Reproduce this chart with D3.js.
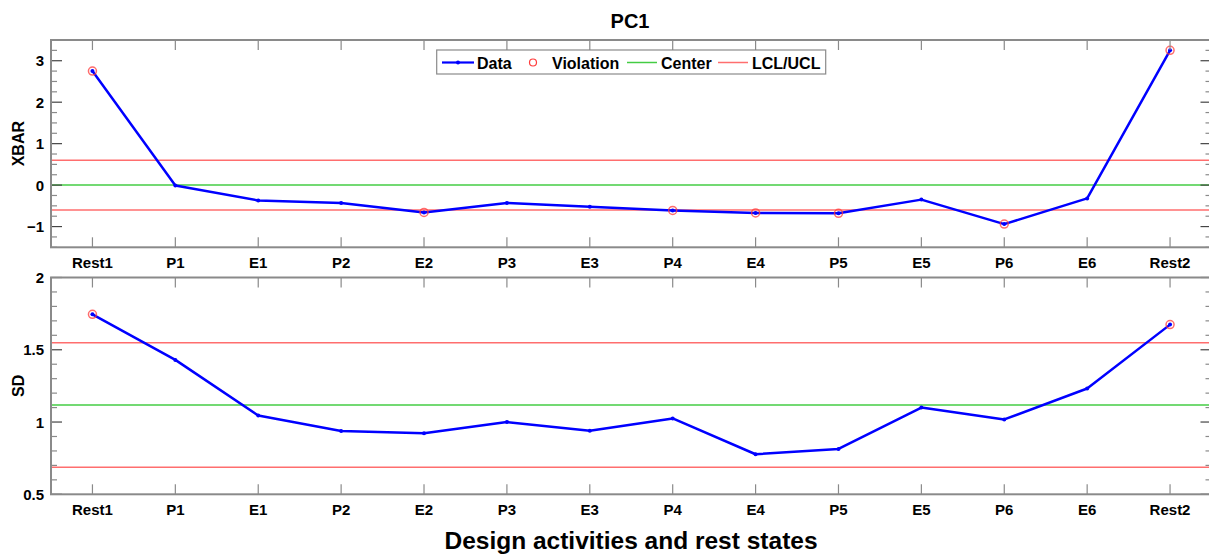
<!DOCTYPE html>
<html>
<head>
<meta charset="utf-8">
<script src="https://cdn.jsdelivr.net/npm/d3@7"></script>
<style>
  body { margin: 0; background: #fff; }
  svg text { font-family: "Liberation Sans", Arial, sans-serif; font-weight: bold; fill: #000; }
</style>
</head>
<body>
<svg id="chart" width="1209" height="556"></svg>
<script>
// categories along x
var states = ['Rest1', 'P1', 'E1', 'P2', 'E2', 'P3', 'E3', 'P4', 'E4', 'P5', 'E5', 'P6', 'E6', 'Rest2'];

// XBAR chart
var xbarValues = [2.75, -0.01, -0.37, -0.43, -0.66, -0.43, -0.52, -0.61, -0.67, -0.68, -0.35, -0.94, -0.32, 3.25];
var xbarLimits = { lcl: -0.6, center: 0, ucl: 0.6 };
var xbarTicks = [-1, 0, 1, 2, 3];

// SD chart
var sdValues = [1.745, 1.43, 1.045, 0.938, 0.922, 1.0, 0.94, 1.025, 0.777, 0.814, 1.1, 1.018, 1.232, 1.674];
var sdLimits = { lcl: 0.688, center: 1.118, ucl: 1.548 };
var sdTicks = [0.5, 1, 1.5, 2];

var legendItems = ['Data', 'Violation', 'Center', 'LCL/UCL'];

var svg = d3.select('#chart');
var left = 51, right = 1211.5;
var colors = { data: '#0000ff', viol: '#ff3b3b', center: '#44cc44', limit: '#ff6e6e', axis: '#8a8a8a' };

var x = d3.scaleLinear().domain([0.5, 14.5]).range([left, right]);

// title
svg.append('text')
    .attr('x', 630).attr('y', 28)
    .attr('text-anchor', 'middle')
    .style('font-size', '20px')
    .text('PC1');

svg.append('text')
    .attr('x', 631).attr('y', 549)
    .attr('text-anchor', 'middle')
    .style('font-size', '24.5px')
    .text('Design activities and rest states');

panel({
    top: 40, bottom: 247.3, domain: [-1.5, 3.5], minor: 0.25,
    ticks: xbarTicks, fmt: d3.format('d'),
    values: xbarValues, limits: xbarLimits, label: 'XBAR', legend: true
});

panel({
    top: 277.5, bottom: 494.3, domain: [0.5, 2], minor: 0.1,
    ticks: sdTicks, fmt: function (d) { return String(d); },
    values: sdValues, limits: sdLimits, label: 'SD', legend: false
});

function panel(o) {
    var y = d3.scaleLinear().domain(o.domain).range([o.bottom, o.top]);
    var g = svg.append('g');

    // limit lines
    [['ucl', colors.limit], ['center', colors.center], ['lcl', colors.limit]].forEach(function (l) {
        g.append('line')
            .attr('x1', left).attr('x2', right)
            .attr('y1', y(o.limits[l[0]])).attr('y2', y(o.limits[l[0]]))
            .attr('stroke', l[1])
            .attr('stroke-width', 1.5);
    });

    // data line
    var line = d3.line()
        .x(function (d, i) { return x(i + 1); })
        .y(function (d) { return y(d); });

    g.append('path')
        .datum(o.values)
        .attr('d', line)
        .attr('fill', 'none')
        .attr('stroke', colors.data)
        .attr('stroke-width', 2.5)
        .attr('stroke-linejoin', 'round');

    // violations
    g.selectAll('circle.viol')
        .data(o.values.map(function (v, i) { return [v, i]; })
            .filter(function (d) { return d[0] > o.limits.ucl || d[0] < o.limits.lcl; }))
        .enter().append('circle')
        .classed('viol', true)
        .attr('cx', function (d) { return x(d[1] + 1); })
        .attr('cy', function (d) { return y(d[0]); })
        .attr('r', 4)
        .attr('fill', 'none')
        .attr('stroke', colors.viol)
        .attr('stroke-opacity', 0.75)
        .attr('stroke-width', 1.5);

    g.selectAll('circle.pt')
        .data(o.values)
        .enter().append('circle')
        .classed('pt', true)
        .attr('cx', function (d, i) { return x(i + 1); })
        .attr('cy', function (d) { return y(d); })
        .attr('r', 2)
        .attr('fill', colors.data);

    // y ticks, inward on both sides
    var minors = d3.range(o.domain[0], o.domain[1] + 1e-9, o.minor);
    var ax = svg.append('g').attr('stroke', colors.axis).attr('stroke-width', 1.2);
    minors.forEach(function (v) {
        var major = o.ticks.some(function (t) { return Math.abs(t - v) < 1e-6; });
        var len = major ? 11 : 6;
        ax.append('line').attr('x1', left).attr('x2', left + len).attr('y1', y(v)).attr('y2', y(v))
            .attr('stroke', major ? '#444' : colors.axis);
        ax.append('line').attr('x1', right).attr('x2', right - len).attr('y1', y(v)).attr('y2', y(v))
            .attr('stroke', major ? '#444' : colors.axis);
    });

    // x ticks top and bottom
    states.forEach(function (s, i) {
        ax.append('line').attr('x1', x(i + 1)).attr('x2', x(i + 1))
            .attr('y1', o.top).attr('y2', o.top + 10);
        ax.append('line').attr('x1', x(i + 1)).attr('x2', x(i + 1))
            .attr('y1', o.bottom).attr('y2', o.bottom - 10);
    });

    // box
    svg.append('rect')
        .attr('x', left).attr('y', o.top)
        .attr('width', right - left).attr('height', o.bottom - o.top)
        .attr('fill', 'none')
        .attr('stroke', colors.axis)
        .attr('stroke-width', 2);

    // tick labels
    svg.append('g').selectAll('text')
        .data(o.ticks).enter().append('text')
        .attr('x', left - 7)
        .attr('y', function (d) { return y(d) + 5.5; })
        .attr('text-anchor', 'end')
        .style('font-size', '15px')
        .text(o.fmt);

    svg.append('g').selectAll('text')
        .data(states).enter().append('text')
        .attr('x', function (d, i) { return x(i + 1); })
        .attr('y', o.bottom + 21)
        .attr('text-anchor', 'middle')
        .style('font-size', '15px')
        .text(function (d) { return d; });

    svg.append('text')
        .attr('transform', 'translate(24,' + ((o.top + o.bottom) / 2) + ') rotate(-90)')
        .attr('text-anchor', 'middle')
        .style('font-size', '16px')
        .text(o.label);

    if (o.legend) drawLegend();
}

function drawLegend() {
    var lg = svg.append('g');
    lg.append('rect')
        .attr('x', 436.7).attr('y', 50)
        .attr('width', 389).attr('height', 24)
        .attr('fill', '#fff')
        .attr('stroke', colors.axis)
        .attr('stroke-width', 1.2);
    var cy = 62.5;
    var symX = [[442, 474], [533, 533], [627, 657], [718, 748]];
    var textX = [477, 552, 661, 752];
    legendItems.forEach(function (name, i) {
        if (i === 1) {
            lg.append('circle').attr('cx', symX[i][0]).attr('cy', cy).attr('r', 3.5)
                .attr('fill', 'none').attr('stroke', colors.viol).attr('stroke-width', 1.2);
        } else {
            var c = i === 0 ? colors.data : (i === 2 ? colors.center : colors.limit);
            lg.append('line').attr('x1', symX[i][0]).attr('x2', symX[i][1])
                .attr('y1', cy).attr('y2', cy)
                .attr('stroke', c).attr('stroke-width', i === 0 ? 2.2 : 1.5);
            if (i === 0) {
                lg.append('circle').attr('cx', (symX[i][0] + symX[i][1]) / 2).attr('cy', cy)
                    .attr('r', 2).attr('fill', colors.data);
            }
        }
        lg.append('text')
            .attr('x', textX[i]).attr('y', cy + 6)
            .style('font-size', '16px')
            .text(name);
    });
}
</script>
</body>
</html>
